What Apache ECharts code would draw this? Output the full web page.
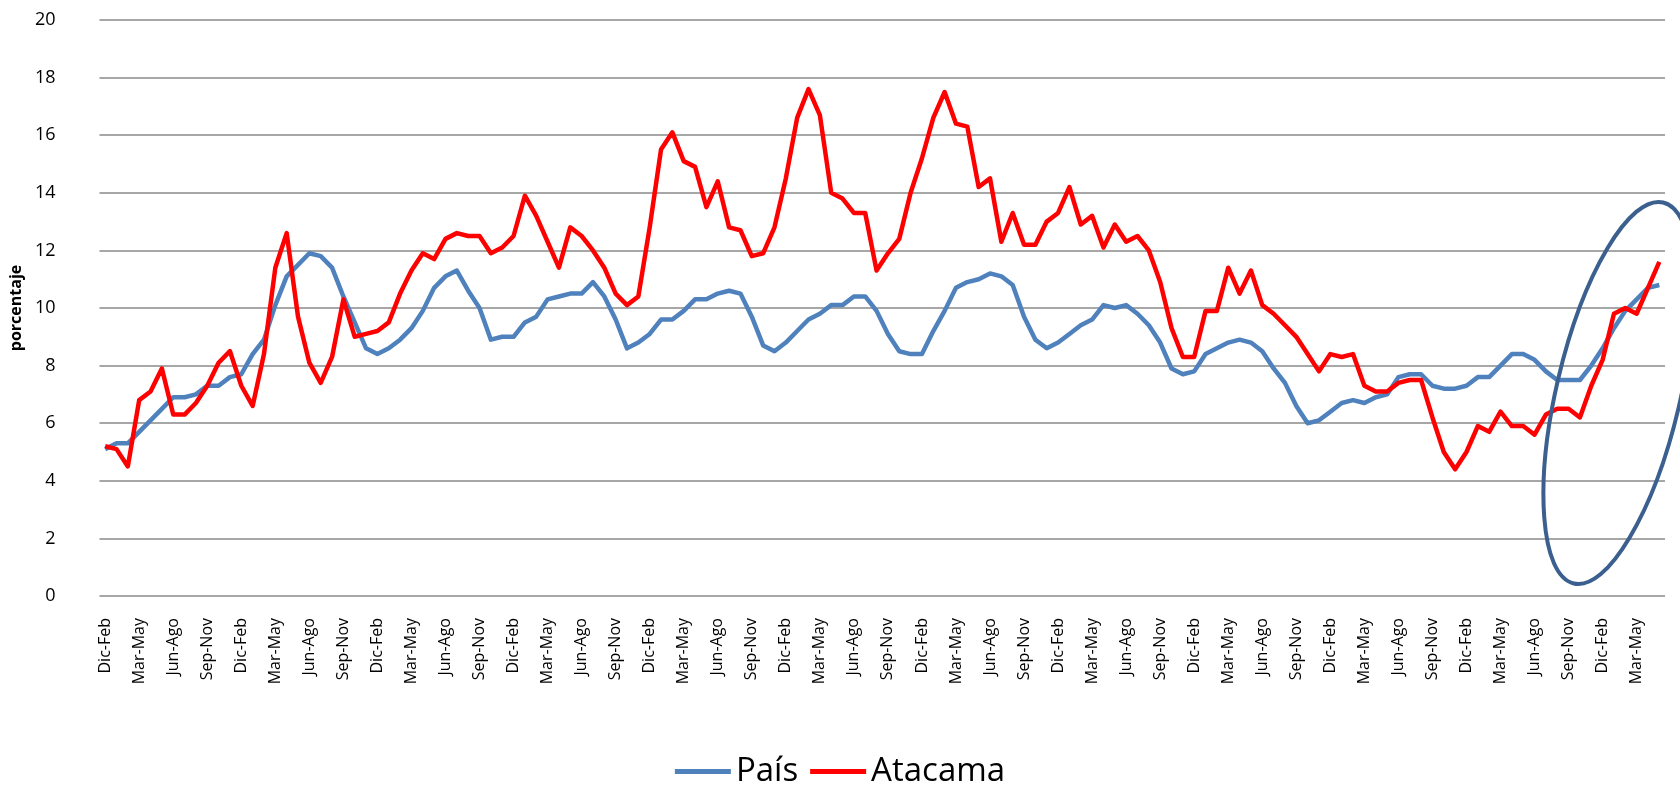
<!DOCTYPE html>
<html>
<head>
<meta charset="utf-8">
<script src="https://cdn.jsdelivr.net/npm/echarts@6/dist/echarts.min.js"></script>
<style>
  html, body { margin: 0; padding: 0; background: #ffffff; }
  #chart { width: 1680px; height: 785px; }
</style>
</head>
<body>
<div id="chart"></div>
<script>
// Rolling quarter names (tick labels), cycled monthly from Dic-Feb
const seasons = ['Dic-Feb','Ene-Mar','Feb-Abr','Mar-May','Abr-Jun','May-Jul','Jun-Ago','Jul-Sep','Ago-Oct','Sep-Nov','Oct-Dic','Nov-Ene'];
const nPeriods = 138;
const categories = [];
for (let i = 0; i < nPeriods; i++) categories.push(seasons[i % 12]);

// País (%)
const pais = [
  5.1, 5.3, 5.3, 5.7, 6.1, 6.5, 6.9, 6.9, 7.0, 7.3, 7.3, 7.6,
  7.7, 8.4, 8.9, 10.1, 11.1, 11.5, 11.9, 11.8, 11.4, 10.4, 9.5, 8.6,
  8.4, 8.6, 8.9, 9.3, 9.9, 10.7, 11.1, 11.3, 10.6, 10.0, 8.9, 9.0,
  9.0, 9.5, 9.7, 10.3, 10.4, 10.5, 10.5, 10.9, 10.4, 9.6, 8.6, 8.8,
  9.1, 9.6, 9.6, 9.9, 10.3, 10.3, 10.5, 10.6, 10.5, 9.7, 8.7, 8.5,
  8.8, 9.2, 9.6, 9.8, 10.1, 10.1, 10.4, 10.4, 9.9, 9.1, 8.5, 8.4,
  8.4, 9.2, 9.9, 10.7, 10.9, 11.0, 11.2, 11.1, 10.8, 9.7, 8.9, 8.6,
  8.8, 9.1, 9.4, 9.6, 10.1, 10.0, 10.1, 9.8, 9.4, 8.8, 7.9, 7.7,
  7.8, 8.4, 8.6, 8.8, 8.9, 8.8, 8.5, 7.9, 7.4, 6.6, 6.0, 6.1,
  6.4, 6.7, 6.8, 6.7, 6.9, 7.0, 7.6, 7.7, 7.7, 7.3, 7.2, 7.2,
  7.3, 7.6, 7.6, 8.0, 8.4, 8.4, 8.2, 7.8, 7.5, 7.5, 7.5, 8.0,
  8.6, 9.3, 9.9, 10.3, 10.7, 10.8
];

// Atacama (%)
const atacama = [
  5.2, 5.1, 4.5, 6.8, 7.1, 7.9, 6.3, 6.3, 6.7, 7.3, 8.1, 8.5,
  7.3, 6.6, 8.4, 11.4, 12.6, 9.7, 8.1, 7.4, 8.3, 10.3, 9.0, 9.1,
  9.2, 9.5, 10.5, 11.3, 11.9, 11.7, 12.4, 12.6, 12.5, 12.5, 11.9, 12.1,
  12.5, 13.9, 13.2, 12.3, 11.4, 12.8, 12.5, 12.0, 11.4, 10.5, 10.1, 10.4,
  12.8, 15.5, 16.1, 15.1, 14.9, 13.5, 14.4, 12.8, 12.7, 11.8, 11.9, 12.8,
  14.5, 16.6, 17.6, 16.7, 14.0, 13.8, 13.3, 13.3, 11.3, 11.9, 12.4, 14.0,
  15.2, 16.6, 17.5, 16.4, 16.3, 14.2, 14.5, 12.3, 13.3, 12.2, 12.2, 13.0,
  13.3, 14.2, 12.9, 13.2, 12.1, 12.9, 12.3, 12.5, 12.0, 10.9, 9.3, 8.3,
  8.3, 9.9, 9.9, 11.4, 10.5, 11.3, 10.1, 9.8, 9.4, 9.0, 8.4, 7.8,
  8.4, 8.3, 8.4, 7.3, 7.1, 7.1, 7.4, 7.5, 7.5, 6.2, 5.0, 4.4,
  5.0, 5.9, 5.7, 6.4, 5.9, 5.9, 5.6, 6.3, 6.5, 6.5, 6.2, 7.3,
  8.2, 9.8, 10.0, 9.8, 10.7, 11.6
];

const FONT = '"Open Sans", "Noto Sans", sans-serif';

const chart = echarts.init(document.getElementById('chart'), null, { renderer: 'canvas' });

const option = {
  animation: false,
  backgroundColor: '#ffffff',
  grid: { left: 93, right: 15, top: 20, bottom: 189, containLabel: false },
  legend: {
    left: 'center',
    top: 750,
    icon: 'rect',
    itemWidth: 56,
    itemHeight: 5,
    itemGap: 12,
    textStyle: { fontFamily: FONT, fontSize: 33, color: '#000' },
    data: ['País', 'Atacama']
  },
  xAxis: {
    type: 'category',
    data: categories,
    boundaryGap: true,
    axisLine: { show: false },
    axisTick: { show: false },
    splitLine: { show: false },
    axisLabel: {
      interval: 2,
      rotate: 90,
      margin: 22,
      fontFamily: FONT,
      fontSize: 16,
      color: '#000'
    }
  },
  yAxis: {
    type: 'value',
    min: 0,
    max: 20,
    interval: 2,
    name: 'porcentaje',
    nameLocation: 'middle',
    nameRotate: 90,
    nameGap: 67,
    nameTextStyle: { fontFamily: FONT, fontSize: 16, fontWeight: 'bold', color: '#000' },
    axisLine: { show: false },
    axisTick: { show: false },
    axisLabel: { margin: 44, fontFamily: FONT, fontSize: 18, color: '#000' },
    splitLine: { show: true, lineStyle: { color: '#8a8a8a', width: 1.5 } }
  },
  series: [
    {
      name: 'País',
      type: 'line',
      data: pais,
      symbol: 'none',
      smooth: false,
      itemStyle: { color: '#4F81BD' },
      lineStyle: { color: '#4F81BD', width: 4.5, join: 'round' },
      z: 2
    },
    {
      name: 'Atacama',
      type: 'line',
      data: atacama,
      symbol: 'none',
      smooth: false,
      itemStyle: { color: '#FF0000' },
      lineStyle: { color: '#FF0000', width: 4.5, join: 'round' },
      z: 3
    }
  ]
};

chart.setOption(option);

// Annotation ellipse anchored to the data coordinates (around the last periods)
const ellipseAnchor = { index: 133.4, value: 7.05 };
const ellipseSize = { rx: 195.7, ry: 61.9, angleDeg: 76.8 };
function placeEllipse() {
  const i0 = Math.floor(ellipseAnchor.index);
  const f = ellipseAnchor.index - i0;
  const p1 = chart.convertToPixel({ xAxisIndex: 0, yAxisIndex: 0 }, [i0, ellipseAnchor.value]);
  const p2 = chart.convertToPixel({ xAxisIndex: 0, yAxisIndex: 0 }, [i0 + 1, ellipseAnchor.value]);
  const cx = p1[0] + f * (p2[0] - p1[0]);
  const cy = p1[1];
  chart.setOption({
    graphic: [{
      type: 'ellipse',
      id: 'circleMark',
      x: cx,
      y: cy,
      rotation: ellipseSize.angleDeg * Math.PI / 180,
      shape: { cx: 0, cy: 0, rx: ellipseSize.rx, ry: ellipseSize.ry },
      style: { fill: 'none', stroke: '#3B5F8E', lineWidth: 4 },
      z: 100
    }]
  });
}
placeEllipse();
</script>
</body>
</html>
